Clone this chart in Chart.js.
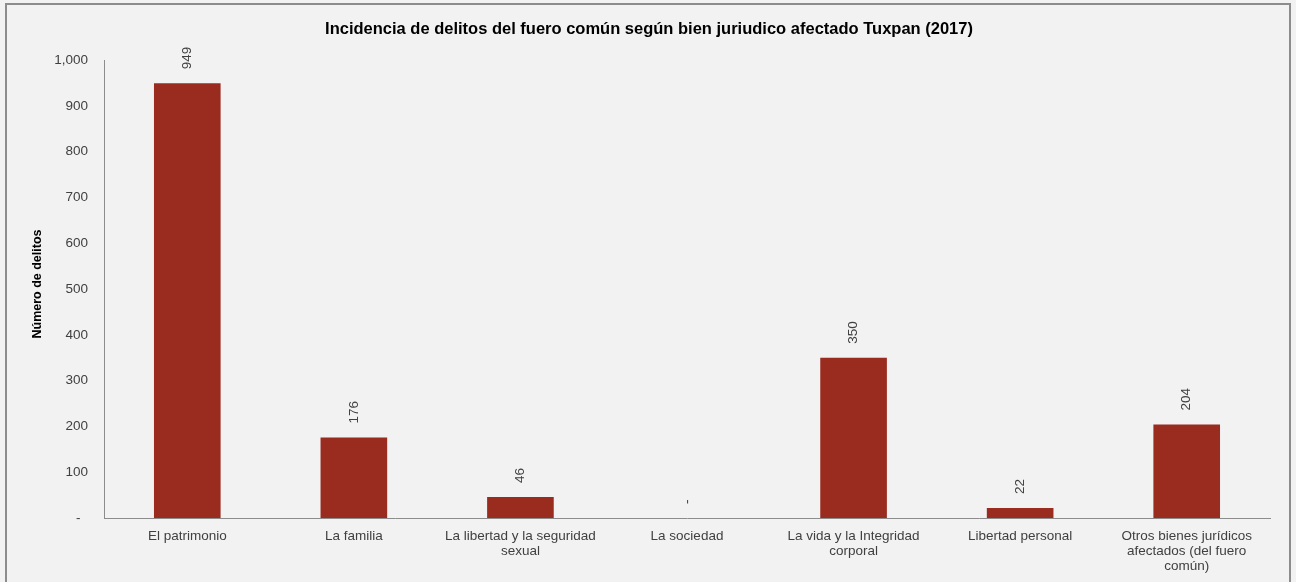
<!DOCTYPE html>
<html>
<head>
<meta charset="utf-8">
<script src="https://cdn.jsdelivr.net/npm/chart.js@4/dist/chart.umd.min.js"></script>
<style>
  html, body { margin: 0; padding: 0; background: #ffffff; }
  #wrap { position: relative; width: 1296px; height: 582px; }
</style>
</head>
<body>
<div id="wrap"><canvas id="c" width="1296" height="582"></canvas></div>
<script>
// Delitos del fuero común por bien jurídico afectado, Tuxpan 2017
const chartTitle = 'Incidencia de delitos del fuero común según bien juriudico afectado Tuxpan (2017)';
const yAxisTitle = 'Número de delitos';
const categories = [
  ['El patrimonio'],
  ['La familia'],
  ['La libertad y la seguridad', 'sexual'],
  ['La sociedad'],
  ['La vida y la Integridad', 'corporal'],
  ['Libertad personal'],
  ['Otros bienes jurídicos', 'afectados (del fuero', 'común)']
];
const delitos = [949, 176, 46, 0, 350, 22, 204];
const yTicks = [0, 100, 200, 300, 400, 500, 600, 700, 800, 900, 1000];

const FONT = '"Liberation Sans", Arial, sans-serif';
const TEXT = '#404040';

function fmt(v) {
  return v === 0 ? '-' : v.toLocaleString('en-US');
}

// Frame, background, title and y-axis title
const framePlugin = {
  id: 'frame',
  beforeDraw(chart) {
    const ctx = chart.ctx;
    ctx.save();
    ctx.fillStyle = '#f2f2f2';
    ctx.fillRect(0, 0, chart.width, chart.height);
    ctx.strokeStyle = '#8c8c8c';
    ctx.lineWidth = 2;
    ctx.strokeRect(6, 4, 1284, 600);
    ctx.restore();
  },
  afterDraw(chart) {
    const ctx = chart.ctx;
    ctx.save();
    ctx.fillStyle = '#000000';
    ctx.font = 'bold 16.5px ' + FONT;
    ctx.textAlign = 'center';
    ctx.textBaseline = 'middle';
    ctx.fillText(chartTitle, 649, 29);
    ctx.translate(38, 284);
    ctx.rotate(-Math.PI / 2);
    ctx.font = 'bold 12.5px ' + FONT;
    ctx.fillText(yAxisTitle, 0, 0);
    ctx.restore();
  }
};

// Rotated value labels above each bar
const valueLabels = {
  id: 'valueLabels',
  afterDatasetsDraw(chart) {
    const ctx = chart.ctx;
    const meta = chart.getDatasetMeta(0);
    ctx.save();
    ctx.fillStyle = TEXT;
    ctx.font = '13.5px ' + FONT;
    ctx.textAlign = 'left';
    ctx.textBaseline = 'middle';
    meta.data.forEach((bar, i) => {
      ctx.save();
      ctx.translate(bar.x, bar.y - 14);
      ctx.rotate(-Math.PI / 2);
      ctx.fillText(fmt(delitos[i]), 0, 0);
      ctx.restore();
    });
    ctx.restore();
  }
};

new Chart(document.getElementById('c'), {
  type: 'bar',
  data: {
    labels: categories,
    datasets: [{
      data: delitos,
      backgroundColor: '#992b1f',
      borderWidth: 0,
      categoryPercentage: 1.0,
      barPercentage: 0.4
    }]
  },
  options: {
    responsive: false,
    animation: false,
    devicePixelRatio: 1,
    layout: { padding: { top: 60, left: 0, right: 26, bottom: 0 } },
    plugins: {
      legend: { display: false },
      title: { display: false },
      tooltip: { enabled: false }
    },
    scales: {
      x: {
        grid: { display: false, drawTicks: false, tickLength: 0 },
        border: { display: true, color: '#8c8c8c', width: 1 },
        ticks: {
          color: TEXT,
          font: { family: FONT, size: 13.5, lineHeight: 1.11 },
          padding: 11,
          maxRotation: 0,
          autoSkip: false
        },
        afterFit(scale) { scale.height = 64; }
      },
      y: {
        min: 0,
        max: 1000,
        afterBuildTicks(scale) { scale.ticks = yTicks.map(v => ({ value: v })); },
        grid: { display: false, drawTicks: false, tickLength: 0 },
        border: { display: true, color: '#8c8c8c', width: 1 },
        ticks: {
          color: TEXT,
          font: { family: FONT, size: 13.5 },
          padding: 16,
          callback: v => (v === 0 ? '-  ' : fmt(v))
        },
        afterFit(scale) { scale.width = 104; }
      }
    }
  },
  plugins: [framePlugin, valueLabels]
});
</script>
</body>
</html>
